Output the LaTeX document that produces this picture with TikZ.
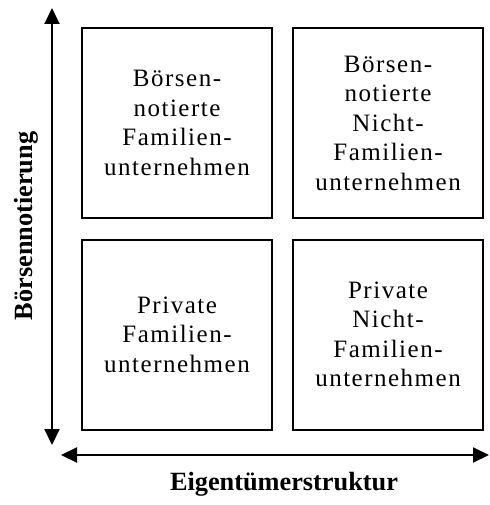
\documentclass[tikz,border=0pt]{standalone}
\usepackage{fontspec}
\setmainfont{Liberation Serif}
\newfontfamily\boxfont[LetterSpace=6]{Liberation Serif}
\usepackage{tikz}
\usetikzlibrary{calc,shapes,positioning}
\usetikzlibrary{arrows.meta}
\tikzset{>={Triangle[width=15pt,length=16pt]}}

\begin{document}
\begin{tikzpicture}[x=1pt,y=-1pt]
        \tikzstyle{qnode} = [draw=black, line width=2pt, rectangle, minimum size=190pt, inner sep=0pt, align=center, font=\boxfont\fontsize{25}{29.5}\selectfont]
        \tikzstyle{axlabel} = [inner sep=0pt, font=\fontsize{26.3}{31}\selectfont\bfseries]

        \useasboundingbox (0,0) rectangle (489,505);

        % quadrants
        \node[qnode] (b11) at (177,123) {B\"orsen-\\notierte\\Familien-\\unternehmen};
        \node[qnode] (b12) at (388,123) {B\"orsen-\\notierte\\Nicht-\\Familien-\\unternehmen};
        \node[qnode] (b21) at (177,334.5) {Private\\Familien-\\unternehmen};
        \node[qnode] (b22) at (388,334.5) {Private\\Nicht-\\Familien-\\unternehmen};

        % axes
        \coordinate (ytop) at (52,8);
        \coordinate (ybot) at (52,445);
        \coordinate (xleft) at (61,455);
        \coordinate (xright) at (489,455);
        \draw[<->, line width=2pt] (ybot) -- (ytop);
        \draw[<->, line width=2pt] (xleft) -- (xright);

        \node[axlabel, rotate=90] (ylab) at (26,226) {B\"orsennotierung};
        \node[axlabel] (xlab) at (284,484) {Eigent\"umerstruktur};
      \end{tikzpicture}
\end{document}
